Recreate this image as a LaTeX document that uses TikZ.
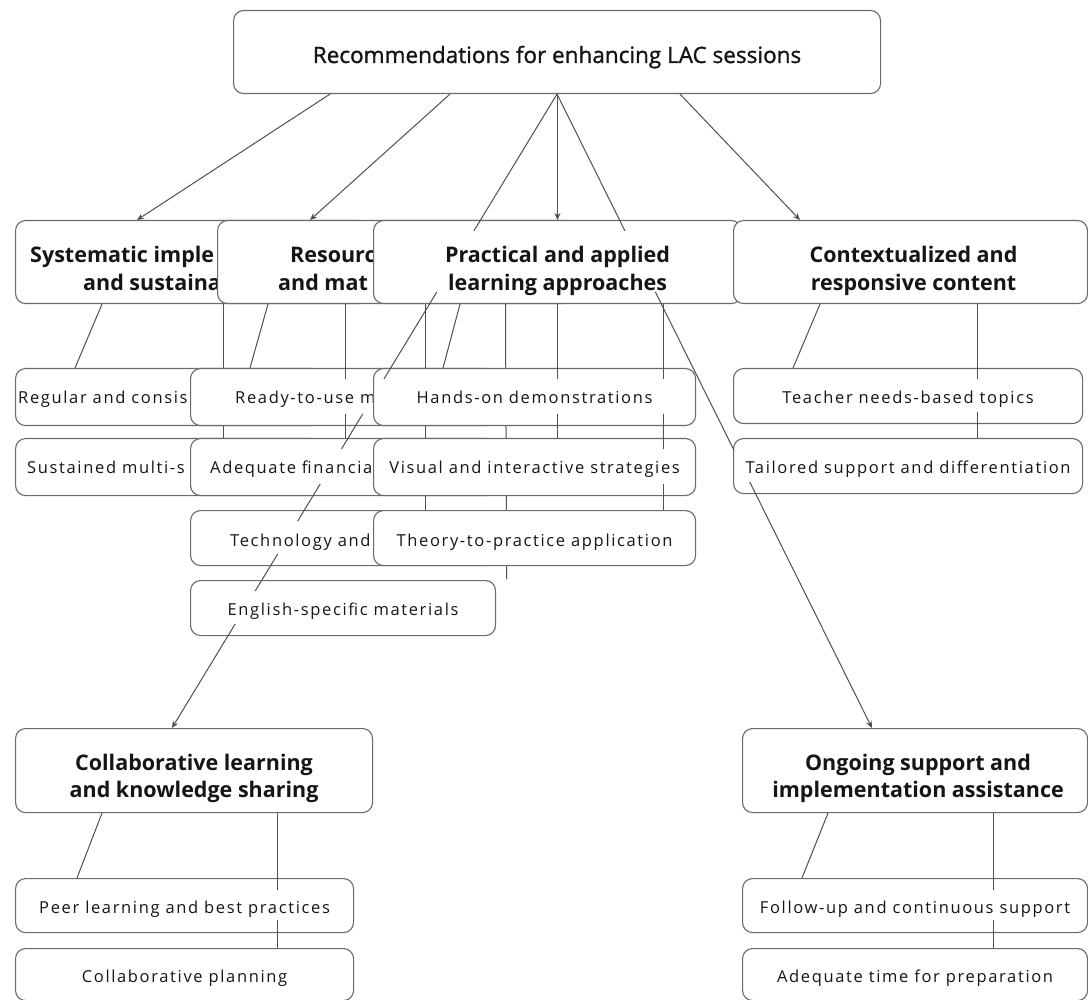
\documentclass[tikz,border=0pt]{standalone}
\usepackage{fontspec}
\setmainfont{Open Sans}
\newfontfamily\smallfont[LetterSpace=10]{Open Sans}
\newfontfamily\titlefont{Open Sans}
\newfontfamily\rootfont[FakeBold=1.2]{Open Sans}
\usetikzlibrary{calc,arrows.meta}
\definecolor{edgecol}{HTML}{505050}
\definecolor{boxcol}{HTML}{6A6A6A}
\definecolor{txtcol}{HTML}{151515}
\tikzset{
  box/.style={draw=boxcol, line width=1.1pt, fill=white, rounded corners=10pt,
    anchor=north west, inner sep=0pt},
  small/.style={font=\smallfont\fontsize{16.5}{20}\selectfont, text=txtcol, inner sep=0pt, anchor=base},
  ttl/.style={font=\titlefont\bfseries\fontsize{21.5}{27}\selectfont, text=txtcol, inner sep=0pt, anchor=base},
  roottxt/.style={font=\rootfont\fontsize{22.5}{28}\selectfont, text=txtcol, inner sep=0pt, anchor=base},
  link/.style={draw=edgecol, line width=1pt},
  arr/.style={link, -{Stealth[length=7pt,width=6pt]}},
}
\begin{document}
\begin{tikzpicture}[x=1pt,y=-1pt]
\useasboundingbox[fill=white] (0,0) rectangle (1088,1000);

% ---------- Systematic group ----------
\node[box, minimum width=354, minimum height=83] (sys) at (15,220) {};
\node[ttl, anchor=base west] (sys1) at (30,263) {Systematic imple};
\node[ttl, anchor=base west] (sys2) at (83,291) {and sustaina};
\node[box, minimum width=305, minimum height=57] (reg) at (15,368) {};
\node[small, anchor=base west] (regt) at (18,404) {Regular and consis};
\node[box, minimum width=305, minimum height=57] (sus) at (15,438) {};
\node[small, anchor=base west] (sust) at (27,474) {Sustained multi-s};
\draw[link] ($(sys.south west)+(87,0)$) -- ($(reg.north west)+(60,0)$);
\draw[link] ($(sys.south west)+(208.5,0)$) -- ($(sus.north west)+(208.5,0)$);

% ---------- Resource group ----------
\node[box, minimum width=354, minimum height=83] (res) at (217,220) {};
\node[ttl, anchor=base west] (res1) at (290,263) {Resourc};
\node[ttl, anchor=base west] (res2) at (278,291) {and mat};
\node[box, minimum width=305, minimum height=57] (rdy) at (190,368) {};
\node[small, anchor=base west] (rdyt) at (235,404) {Ready-to-use m};
\node[box, minimum width=305, minimum height=57] (fin) at (190,438) {};
\node[small, anchor=base west] (fint) at (210,474) {Adequate financia};
\node[box, minimum width=305, minimum height=55] (tec) at (190,510) {};
\node[small, anchor=base west] (tect) at (230,546) {Technology and};
\node[box, minimum width=305, minimum height=55] (eng) at (190,580) {};
\node[small] (engt) at ($(eng.north)+(0,35)$) {English-specific materials};
\coordinate (engend) at ($(eng.north east)+(10.5,-1)$);
\draw[link] ($(res.south west)+(51,0)$) -- ($(rdy.north west)+(60,0)$);
\draw[link] ($(res.south west)+(208.5,0)$) -- ($(tec.north west)+(235.5,0)$);
\draw[link] ($(res.south west)+(288.5,0)$) -- (engend);

% ---------- Practical group ----------
\node[box, minimum width=368, minimum height=83] (prac) at (373,220) {};
\node[ttl] (prac1) at ($(prac.north)+(0,43)$) {Practical and applied};
\node[ttl] (prac2) at ($(prac.north)+(0,71)$) {learning approaches};
\node[box, minimum width=322, minimum height=57] (hand) at (373,368) {};
\node[small] (handt) at ($(hand.north)+(0,36)$) {Hands-on demonstrations};
\node[box, minimum width=322, minimum height=57] (vis) at (373,438) {};
\node[small] (vist) at ($(vis.north)+(0,36)$) {Visual and interactive strategies};
\node[box, minimum width=322, minimum height=55] (theo) at (373,510) {};
\node[small] (theot) at ($(theo.north)+(0,36)$) {Theory-to-practice application};
\draw[link] ($(prac.south west)+(87,0)$) -- ($(hand.north west)+(70,0)$);

% ---------- Contextualized group ----------
\node[box, minimum width=354, minimum height=83] (ctx) at (733,220) {};
\node[ttl] (ctx1) at ($(ctx.north)+(3,43)$) {Contextualized and};
\node[ttl] (ctx2) at ($(ctx.north)+(3,71)$) {responsive content};
\node[box, minimum width=349, minimum height=55] (tea) at (733,368) {};
\node[small] (teat) at ($(tea.north)+(0,36)$) {Teacher needs-based topics};
\node[box, minimum width=349, minimum height=55] (tai) at (733,438) {};
\node[small] (tait) at ($(tai.north)+(0,36)$) {Tailored support and differentiation};
\draw[link] ($(ctx.south west)+(87,0)$) -- ($(tea.north west)+(60,0)$);

% ---------- Collaborative group ----------
\node[box, minimum width=357, minimum height=84] (col) at (15,728) {};
\node[ttl] (col1) at ($(col.north)+(0,42)$) {Collaborative learning};
\node[ttl] (col2) at ($(col.north)+(0,69)$) {and knowledge sharing};
\node[box, minimum width=338, minimum height=54] (peer) at (15,878) {};
\node[small] (peert) at ($(peer.north)+(0,35)$) {Peer learning and best practices};
\node[box, minimum width=338, minimum height=52] (plan) at (15,948) {};
\node[small] (plant) at ($(plan.north)+(0,34)$) {Collaborative planning};
\draw[link] ($(col.south west)+(87,0)$) -- ($(peer.north west)+(62,0)$);

% ---------- Ongoing group ----------
\node[box, minimum width=345, minimum height=84] (ong) at (742,728) {};
\node[ttl] (ong1) at ($(ong.north)+(3,42)$) {Ongoing support and};
\node[ttl] (ong2) at ($(ong.north)+(3,69)$) {implementation assistance};
\node[box, minimum width=345, minimum height=54] (fol) at (742,878) {};
\node[small] (folt) at ($(fol.north)+(0,35)$) {Follow-up and continuous support};
\node[box, minimum width=345, minimum height=52] (adt) at (742,948) {};
\node[small] (adtt) at ($(adt.north)+(0,34)$) {Adequate time for preparation};
\draw[link] ($(ong.south west)+(86,0)$) -- ($(fol.north west)+(60,0)$);

% ---------- Root ----------
\node[box, minimum width=647, minimum height=83] (root) at (233,10) {};
\node[roottxt] (roott) at ($(root.north)+(0,53)$) {Recommendations for enhancing LAC sessions};

\draw[arr] ($(root.south west)+(97,0)$) -- ($(sys.north west)+(122,0)$);
\draw[arr] ($(root.south west)+(217,0)$) -- ($(res.north west)+(93,0)$);
\draw[arr] ($(root.south west)+(447,0)$) -- ($(ctx.north west)+(67,0)$);
\draw[arr] ($(root.south west)+(324.5,0)$) -- ($(prac.north west)+(184.5,0)$);

% ---------- connectors drawn over boxes, hidden behind text bands ----------
\begin{scope}[even odd rule]
\clip (-10,-10) rectangle (1100,1010)
  (16,231) rectangle (1086,292)
  (16,379) rectangle (694,414) (734,379) rectangle (1081,412)
  (16,449) rectangle (694,484) (734,449) rectangle (1081,482)
  (191,521) rectangle (694,554)
  (191,591) rectangle (494,624)
  (16,740) rectangle (371,800) (743,740) rectangle (1086,800)
  (16,890) rectangle (352,920) (743,890) rectangle (1086,920)
  (16,960) rectangle (352,986) (743,960) rectangle (1086,986);
\draw[arr] ($(root.south west)+(324,0)$) -- ($(col.north west)+(157,0)$);
\draw[arr] ($(root.south west)+(324,0)$) -- ($(ong.north west)+(130,0)$);
\draw[link] ($(res.south west)+(128.5,0)$) -- ($(fin.north west)+(155.5,0)$);
\draw[link] ($(prac.south west)+(184.5,0)$) -- ($(vis.north west)+(184.5,0)$);
\draw[link] ($(prac.south west)+(290.5,0)$) -- ($(theo.north west)+(290.5,0)$);
\draw[link] ($(ctx.south west)+(244.5,0)$) -- ($(tai.north west)+(244.5,0)$);
\draw[link] ($(col.south west)+(262.5,0)$) -- ($(plan.north west)+(262.5,0)$);
\draw[link] ($(ong.south west)+(251.5,0)$) -- ($(adt.north west)+(251.5,0)$);
\end{scope}
\end{tikzpicture}
\end{document}
